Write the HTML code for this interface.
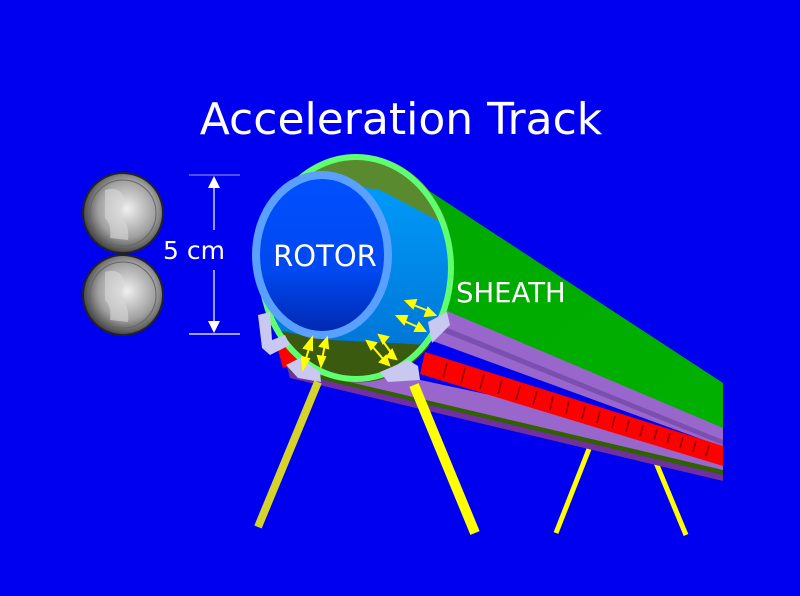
<!DOCTYPE html>
<html><head><meta charset="utf-8"><style>
html,body{margin:0;padding:0;background:#0000f0;}
svg{display:block;font-family:"DejaVu Sans","Liberation Sans",sans-serif;}
</style></head><body>
<svg width="800" height="596" viewBox="0 0 800 596" xmlns="http://www.w3.org/2000/svg">
<defs>
<radialGradient id="coin" cx="0.55" cy="0.45" r="0.6">
<stop offset="0" stop-color="#f0f0f0"/><stop offset="0.6" stop-color="#a0a0a0"/><stop offset="1" stop-color="#303030"/>
</radialGradient>
<linearGradient id="rotor" x1="0" y1="0" x2="0" y2="1">
<stop offset="0" stop-color="#0050ff"/><stop offset="0.6" stop-color="#0048f0"/><stop offset="1" stop-color="#0028b0"/>
</linearGradient>
<linearGradient id="inner" x1="0" y1="0" x2="0" y2="1">
<stop offset="0" stop-color="#00a0ff"/><stop offset="1" stop-color="#0070d0"/>
</linearGradient>
<linearGradient id="green" x1="0" y1="0" x2="1" y2="1">
<stop offset="0" stop-color="#00a800"/><stop offset="1" stop-color="#00b000"/>
</linearGradient>
</defs>
<rect width="800" height="596" fill="#0000f0"/>
<text x="401" y="134" font-size="44" fill="#fff" text-anchor="middle">Acceleration Track</text>

<g>
<circle cx="123" cy="213" r="40" fill="url(#coin)" stroke="#222" stroke-width="2"/>
<circle cx="123" cy="213" r="33" fill="none" stroke="#666" stroke-width="1"/>
<path d="M105,190 Q120,185 125,200 L120,215 Q130,225 128,240 L110,238 Q112,225 105,218 Z" fill="#d8d8d8" opacity="0.6"/>
<circle cx="123" cy="295" r="40" fill="url(#coin)" stroke="#222" stroke-width="2"/>
<circle cx="123" cy="295" r="33" fill="none" stroke="#666" stroke-width="1"/>
<path d="M105,272 Q120,267 125,282 L120,297 Q130,307 128,322 L110,320 Q112,307 105,300 Z" fill="#d8d8d8" opacity="0.6"/>
</g>
<g stroke="#fff" stroke-width="1.2">
<line x1="189" y1="175" x2="240" y2="175" stroke="#8080ff"/>
<line x1="189" y1="334" x2="240" y2="334"/>
<line x1="214" y1="184" x2="214" y2="230"/>
<line x1="214" y1="270" x2="214" y2="325"/>
</g>
<polygon points="214,176 208,188 220,188" fill="#fff"/>
<polygon points="214,333 208,321 220,321" fill="#fff"/>
<text x="163" y="259" font-size="25" fill="#fff">5 cm</text>

<line x1="556" y1="533" x2="589" y2="449" stroke="#ffff00" stroke-width="5"/>
<line x1="652" y1="453" x2="686" y2="535" stroke="#ffff00" stroke-width="5"/>

<polygon points="285,360 723,455 723,481 290,378" fill="#7030a0"/>
<polygon points="285,358 723,452 723,475 290,372" fill="#306000"/>
<polygon points="290,352 723,445 723,470 290,368" fill="#9966cc"/>
<polygon points="385,162 723,383 723,432 440,330 450,290" fill="url(#green)"/>
<polygon points="440,308 723,428 723,447 430,340" fill="#9966cc"/>
<polygon points="440,325 723,440 723,445 438,330" fill="#7a4fb0"/>
<polygon points="425,352 723,446 723,466 420,374" fill="#ff0000"/>
<g stroke="#900000" stroke-width="1.5">
<line x1="447" y1="363" x2="443" y2="378"/><line x1="465" y1="368" x2="461" y2="384"/>
<line x1="484" y1="374" x2="480" y2="389"/><line x1="502" y1="380" x2="498" y2="394"/>
<line x1="520" y1="386" x2="516" y2="400"/><line x1="537" y1="391" x2="533" y2="405"/>
<line x1="553" y1="396" x2="550" y2="410"/><line x1="569" y1="401" x2="566" y2="414"/>
<line x1="585" y1="406" x2="582" y2="419"/><line x1="600" y1="411" x2="597" y2="423"/>
<line x1="615" y1="416" x2="612" y2="428"/><line x1="629" y1="420" x2="626" y2="432"/>
<line x1="643" y1="425" x2="640" y2="436"/><line x1="657" y1="429" x2="654" y2="440"/>
<line x1="670" y1="433" x2="667" y2="444"/><line x1="683" y1="437" x2="680" y2="448"/>
<line x1="696" y1="441" x2="693" y2="452"/><line x1="709" y1="445" x2="706" y2="456"/>
</g>
<polygon points="278,350 295,345 300,362 283,368" fill="#ff0000"/>

<ellipse cx="356" cy="268" rx="96" ry="112" fill="url(#inner)"/>
<path d="M300,178 A96,112 0 0 1 448,226 L380,190 Z" fill="#5a8a30"/>
<path d="M275,330 L330,340 L430,345 A96,112 0 0 1 280,335 Z" fill="#3a5a10"/>
<ellipse cx="356" cy="268" rx="95" ry="111" fill="none" stroke="#60ff70" stroke-width="6"/>
<ellipse cx="322" cy="255" rx="66" ry="80" fill="url(#rotor)" stroke="#5aa0ff" stroke-width="8"/>
<text x="325" y="266" font-size="29" fill="#fff" text-anchor="middle">ROTOR</text>
<text x="456" y="302" font-size="27.5" fill="#fff">SHEATH</text>

<g fill="#c8c8f0">
<path d="M258,315 L270,312 L272,340 L285,335 L290,345 L270,355 L262,348 Z"/>
<path d="M286,365 L300,358 L320,372 L321,382 L298,378 Z"/>
<path d="M380,372 L408,360 L418,366 L420,380 L388,382 Z"/>
<path d="M428,322 L447,312 L450,325 L432,343 Z"/>
</g>

<g stroke="#ffff00" stroke-width="2" fill="#ffff00">
<line x1="310" y1="345" x2="305" y2="362"/><polygon points="312,338 304,348 312,350"/><polygon points="303,369 302,357 309,359"/>
<line x1="325" y1="344" x2="322" y2="360"/><polygon points="327,338 320,346 328,348"/><polygon points="321,366 318,356 325,357"/>
<line x1="372" y1="346" x2="384" y2="360"/><polygon points="367,341 376,343 371,349"/><polygon points="389,365 380,362 386,356"/>
<line x1="382" y1="340" x2="392" y2="354"/><polygon points="379,335 388,337 383,343"/><polygon points="396,359 387,357 392,350"/>
<line x1="402" y1="320" x2="420" y2="328"/><polygon points="397,316 407,316 404,324"/><polygon points="425,331 415,331 419,323"/>
<line x1="411" y1="304" x2="431" y2="312"/><polygon points="406,301 416,300 413,308"/><polygon points="435,315 425,316 428,308"/>
</g>

<line x1="258" y1="527" x2="318" y2="382" stroke="#d4d42a" stroke-width="8"/>
<line x1="414" y1="385" x2="475" y2="533" stroke="#ffff00" stroke-width="10"/>
</svg>
</body></html>
